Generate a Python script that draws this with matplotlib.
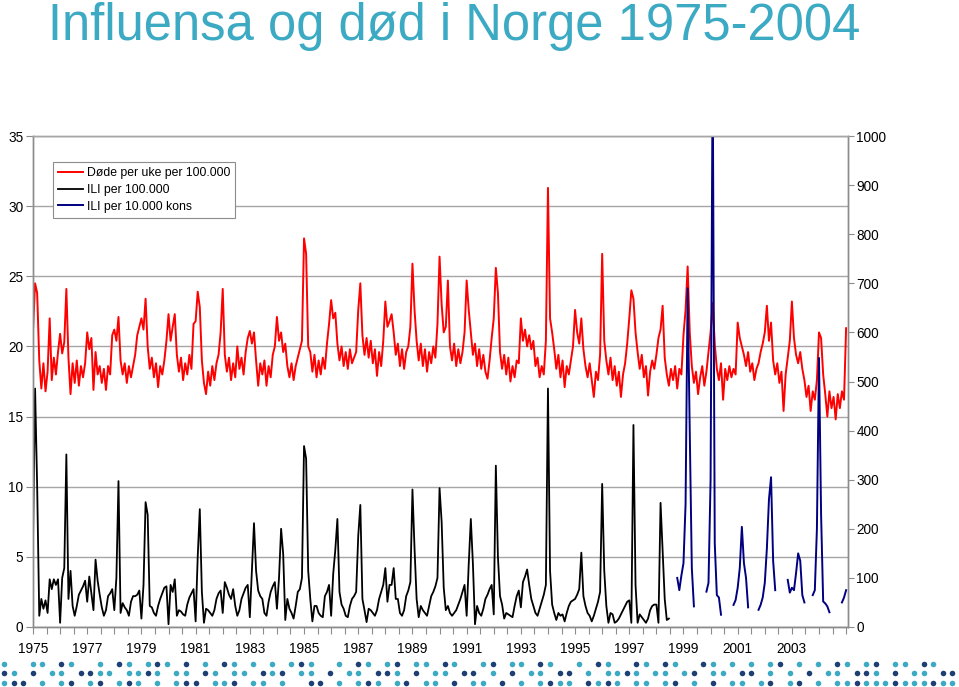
"""Influensa og død i Norge 1975-2004 - deaths vs. influenza-like illness."""

import numpy as np
import matplotlib
matplotlib.use('Agg')
import matplotlib.pyplot as plt

plt.rcParams['font.family'] = ['Liberation Sans', 'DejaVu Sans']

# Values, one row per year, 13 points per year (4-week steps)
start_year = 1975
steps_per_year = 13

# Døde per uke per 100.000 (left axis)
deaths = [
    21.1, 24.5, 23.8, 19.0, 17.0, 18.8, 16.8, 18.2, 22.0, 17.6, 19.2, 18.0, 19.6,  # 1975
    20.9, 19.5, 20.3, 24.1, 19.2, 16.6, 18.8, 17.4, 19.0, 17.2, 18.6, 17.8, 18.8,  # 1976
    21.0, 19.8, 20.6, 16.9, 19.6, 18.0, 18.6, 17.4, 18.4, 16.9, 18.6, 18.0, 20.8,  # 1977
    21.2, 20.4, 22.1, 19.0, 18.0, 18.8, 17.4, 18.6, 17.8, 18.6, 19.4, 20.8, 21.4,  # 1978
    22.0, 21.2, 23.4, 20.0, 18.4, 19.2, 17.8, 18.8, 17.1, 18.6, 18.0, 19.0, 20.4,  # 1979
    22.3, 20.4, 21.4, 22.3, 19.4, 18.2, 19.2, 17.6, 18.8, 18.0, 19.4, 18.4, 21.6,  # 1980
    21.8, 23.9, 22.8, 19.0, 17.4, 16.6, 18.2, 17.2, 18.6, 17.6, 18.8, 19.4, 21.0,  # 1981
    24.1, 19.4, 18.2, 19.2, 17.6, 18.8, 17.8, 20.0, 18.4, 19.2, 18.0, 19.6, 20.6,  # 1982
    21.1, 20.2, 21.0, 19.0, 17.2, 18.8, 18.0, 19.0, 17.2, 18.6, 17.8, 19.4, 20.0,  # 1983
    22.1, 20.4, 21.0, 19.6, 20.2, 18.6, 17.8, 18.8, 17.6, 18.6, 19.2, 19.8, 20.4,  # 1984
    27.7, 26.6, 20.0, 19.6, 18.2, 19.4, 17.8, 19.0, 18.0, 19.2, 18.4, 20.2, 21.6,  # 1985
    23.3, 22.0, 22.4, 20.2, 19.0, 20.0, 18.6, 19.6, 18.4, 19.8, 18.8, 19.2, 19.6,  # 1986
    22.6, 24.5, 20.8, 19.4, 20.6, 19.2, 20.4, 18.8, 19.8, 17.9, 19.6, 18.6, 20.4,  # 1987
    23.2, 21.4, 21.8, 22.3, 21.0, 19.4, 20.2, 18.6, 19.8, 18.4, 19.6, 20.0, 21.4,  # 1988
    25.9, 22.6, 20.4, 19.0, 20.2, 18.6, 19.8, 18.2, 19.6, 18.8, 20.0, 19.2, 21.6,  # 1989
    26.4, 23.0, 21.0, 21.4, 24.7, 20.0, 19.0, 20.2, 18.6, 19.8, 18.8, 19.6, 21.0,  # 1990
    24.7, 22.6, 21.0, 19.4, 20.2, 18.6, 19.8, 18.4, 19.4, 18.2, 17.7, 19.0, 20.6,  # 1991
    22.0, 25.6, 23.8, 19.6, 18.4, 19.4, 18.0, 19.2, 17.5, 18.6, 17.8, 19.0, 18.8,  # 1992
    22.0, 20.4, 21.2, 20.0, 20.8, 19.8, 20.4, 18.6, 19.2, 17.8, 18.6, 18.0, 20.4,  # 1993
    31.3, 22.0, 21.0, 19.8, 18.4, 19.4, 17.8, 19.0, 17.1, 18.6, 18.0, 19.0, 20.0,  # 1994
    22.6, 21.0, 20.2, 22.0, 19.8, 18.6, 17.8, 18.8, 17.6, 16.4, 18.2, 17.6, 19.4,  # 1995
    26.6, 20.4, 19.0, 18.0, 19.2, 17.6, 18.6, 17.2, 18.2, 16.4, 18.0, 18.8, 20.2,  # 1996
    22.0, 24.0, 23.4, 21.0, 19.6, 18.4, 19.4, 17.8, 18.6, 16.5, 18.2, 19.0, 18.4,  # 1997
    19.4, 20.6, 21.2, 22.9, 19.2, 18.0, 17.2, 18.4, 17.6, 18.6, 17.0, 18.4, 18.0,  # 1998
    20.8, 22.6, 25.7, 21.0, 18.6, 17.4, 18.2, 16.6, 17.8, 18.6, 17.2, 18.2, 19.6,  # 1999
    21.0, 23.1, 20.2, 18.4, 17.6, 18.8, 16.2, 18.4, 17.6, 18.6, 17.8, 18.4, 18.0,  # 2000
    21.7, 20.6, 20.0, 19.4, 18.6, 19.6, 18.2, 18.8, 17.6, 18.4, 18.8, 19.6, 20.2,  # 2001
    21.0, 22.9, 20.4, 21.7, 19.0, 18.0, 18.8, 17.4, 18.2, 15.4, 18.0, 19.2, 20.4,  # 2002
    23.2, 20.6, 19.4, 18.8, 19.6, 18.4, 17.6, 16.4, 17.2, 15.4, 16.8, 16.2, 17.6,  # 2003
    21.0, 20.6, 18.0, 16.6, 15.0, 16.8, 15.6, 16.4, 14.8, 16.6, 15.6, 16.8, 16.2,  # 2004
    21.3,
]

# ILI per 100.000 (left axis), reported until spring 1998
ili = [
    6.0, 17.0, 10.0, 0.8, 2.0, 1.3, 1.9, 1.0, 3.4, 2.7, 3.4, 3.0, 3.4,   # 1975
    0.3, 3.5, 4.2, 12.3, 2.0, 4.0, 1.5, 0.8, 1.5, 2.3, 2.6, 2.9, 3.3,    # 1976
    1.8, 3.6, 2.4, 1.2, 4.8, 3.3, 2.3, 1.4, 0.8, 1.2, 2.2, 2.4, 2.7,     # 1977
    1.2, 3.5, 10.4, 1.0, 1.7, 1.4, 1.2, 0.8, 1.8, 2.2, 2.2, 2.3, 2.6,    # 1978
    0.6, 3.0, 8.9, 8.0, 1.5, 1.4, 1.0, 0.8, 1.5, 2.0, 2.4, 2.8, 2.9,     # 1979
    0.2, 3.0, 2.5, 3.4, 0.8, 1.2, 1.1, 0.9, 0.8, 1.6, 2.1, 2.4, 2.7,     # 1980
    0.4, 5.0, 8.4, 2.5, 0.3, 1.3, 1.2, 1.0, 0.8, 1.2, 2.0, 2.4, 2.6,     # 1981
    1.0, 3.2, 2.8, 2.3, 2.0, 2.7, 1.5, 0.8, 1.2, 2.0, 2.4, 2.8, 3.0,     # 1982
    0.7, 4.0, 7.4, 4.0, 2.6, 2.2, 2.0, 1.0, 0.8, 1.8, 2.5, 2.9, 3.2,     # 1983
    1.3, 3.5, 7.0, 5.2, 0.5, 2.0, 1.3, 1.0, 0.6, 1.5, 2.5, 2.7, 3.5,     # 1984
    12.9, 12.0, 4.0, 2.0, 0.4, 1.5, 1.5, 1.0, 0.8, 0.7, 2.2, 2.5, 3.0,   # 1985
    0.8, 3.8, 5.5, 7.7, 2.5, 1.6, 1.3, 0.8, 0.7, 1.5, 2.0, 2.2, 2.5,     # 1986
    6.5, 8.7, 2.0, 1.2, 0.35, 1.3, 1.2, 1.0, 0.8, 1.2, 2.0, 2.5, 3.0,    # 1987
    4.2, 1.8, 3.0, 3.0, 4.2, 2.0, 2.0, 1.0, 0.8, 1.2, 2.2, 2.6, 3.2,     # 1988
    9.8, 5.6, 2.0, 0.7, 1.5, 1.2, 1.0, 0.8, 1.5, 2.2, 2.5, 2.9, 3.5,     # 1989
    9.9, 7.5, 2.8, 1.2, 1.5, 1.0, 0.8, 1.0, 1.2, 1.6, 2.0, 2.5, 3.0,     # 1990
    0.8, 4.5, 7.7, 4.5, 0.2, 1.5, 1.0, 0.8, 1.3, 2.0, 2.3, 2.7, 3.0,     # 1991
    0.9, 11.5, 5.0, 2.2, 1.6, 0.6, 1.0, 0.9, 0.8, 0.7, 1.5, 2.2, 2.6,    # 1992
    1.4, 3.2, 3.6, 4.1, 3.0, 2.0, 1.5, 1.0, 0.8, 1.3, 1.8, 2.3, 3.0,     # 1993
    17.0, 4.0, 1.6, 1.0, 0.5, 1.0, 0.8, 0.9, 0.4, 1.0, 1.5, 1.8, 1.9,    # 1994
    2.0, 2.3, 2.7, 5.3, 2.2, 1.5, 1.0, 0.8, 0.4, 0.8, 1.3, 1.8, 2.5,     # 1995
    10.2, 4.0, 1.5, 0.3, 1.0, 0.9, 0.3, 0.4, 0.6, 0.9, 1.2, 1.5, 1.8,    # 1996
    1.9, 0.3, 14.4, 3.0, 0.3, 0.9, 0.7, 0.5, 0.3, 0.6, 1.2, 1.5, 1.6,    # 1997
    1.6, 0.3, 8.85, 5.5, 2.0, 0.5, 0.6,                                  # 1998
]

# ILI per 10.000 konsultasjoner (right axis), from autumn 1998; nan = no reports
nan = np.nan
kons_start = (1998, 10)  # (year, 4-week step within year)
ili_kons = [
    100, 75, 105,                                                        # 1998
    130, 250, 690, 400, 120, 42, nan, nan, nan, nan, nan, 72, 90,        # 1999
    300, 1150, 170, 65, 60, 25, nan, nan, nan, nan, nan, 45, 55,         # 2000
    80, 120, 204, 130, 100, 40, nan, nan, nan, nan, 35, 45, 60,          # 2001
    90, 160, 260, 305, 135, 75, nan, nan, nan, nan, nan, 96, 70,         # 2002
    80, 75, 110, 150, 135, 65, 50, nan, nan, nan, 65, 75, 200,           # 2003
    548, 230, 52, 48, 42, 30, nan, nan, nan, nan, nan, 50, 60,           # 2004
    75,
]

labels = ['Døde per uke per 100.000', 'ILI per 100.000', 'ILI per 10.000 kons']
year_labels = list(range(1975, 2004, 2))

x_deaths = start_year + np.arange(len(deaths)) / steps_per_year
x_ili = start_year + np.arange(len(ili)) / steps_per_year
x_kons = kons_start[0] + (kons_start[1] + np.arange(len(ili_kons))) / steps_per_year

teal = '#3DAAC4'
navy_dot = '#1D3F73'
axis_grey = '#8C8C8C'

# --- Plot ---
fig = plt.figure(figsize=(9.59, 6.87), dpi=100)
ax = fig.add_axes([33/959, 60/687, 815/959, 491/687])
ax2 = ax.twinx()

l1, = ax.plot(x_deaths, deaths, color='#FF0000', lw=1.4)
l2, = ax.plot(x_ili, ili, color='black', lw=1.3)
l3, = ax2.plot(x_kons, ili_kons, color='#000080', lw=1.4)

ax.set_xlim(1975, 2005.07)
ax.set_ylim(0, 35)
ax2.set_ylim(0, 1000)
ax.set_yticks(range(0, 36, 5))
ax2.set_yticks(range(0, 1001, 100))

ticks = np.arange(1975, 2005.01, 0.5)
ax.set_xticks(ticks)
ax.set_xticklabels([str(int(t)) if t in year_labels else '' for t in ticks])

ax.yaxis.grid(True, color='#A6A6A6', lw=1.0)
ax.set_axisbelow(True)
for a in (ax, ax2):
    for s in a.spines.values():
        s.set_color(axis_grey)
        s.set_linewidth(1.0)
    a.spines['top'].set_color('#A6A6A6')

ax.tick_params(axis='y', length=5, pad=2, color=axis_grey, labelsize=9.8)
ax.tick_params(axis='x', length=5, pad=6, color=axis_grey, labelsize=9.8)
ax2.tick_params(axis='y', length=4, pad=2, color=axis_grey, labelsize=9.8)

leg = ax2.legend([l1, l2, l3], labels, loc='upper left', bbox_to_anchor=(0.0245, 0.947),
                 borderaxespad=0, fancybox=False, framealpha=1, edgecolor=axis_grey,
                 fontsize=8.8, handlelength=2.05, handletextpad=0.3,
                 labelspacing=0.4, borderpad=0.4)
leg.get_frame().set_linewidth(0.8)

fig.text(48/959, 1 - 40/687, 'Influensa og død i Norge 1975-2004',
         fontsize=36.5, color=teal, ha='left', va='baseline')

# slide template dot pattern along the bottom edge
dot_rows = [
    "t..tt.nt..t.nt.tnt.n.t.nt.t.t.tnt..t.nt.tn.tt.nt..tn.tt.nt..t.nt..nt.nt..nt.t.t.tn.t.t.nt.tn.tt.nt..",
    "nt.n.tt.nntt.ttnt.tt.nt.tt.ntn.tt.n.tt.nnt.n.tt.nn.t.n.tt.nn.t.ttnt.tt.tn.tt.nn.t.t.n.tt.nnt.n.tt.nn",
    "tnn.t.tn.tn.tnt.t.tnn.ttn.tt.t..nn.t.tnt.tn.tt.n.tt.n.t.tntt.ntnt.tt.tn.t.n.tt.tn.tn.t.ttntttntttntt",
]
deco = fig.add_axes([0, 0, 1, 1], zorder=-1)
deco.set_xlim(0, 959)
deco.set_ylim(687, 0)
deco.axis('off')
for row, (pattern, y) in enumerate(zip(dot_rows, [664, 673.3, 682.7])):
    for k, c in enumerate(pattern[:100]):
        if c == '.':
            continue
        deco.scatter(4 + 9.58 * k, y, s=16, color=teal if c == 't' else navy_dot, lw=0)

fig.savefig('out.png', dpi=100)
